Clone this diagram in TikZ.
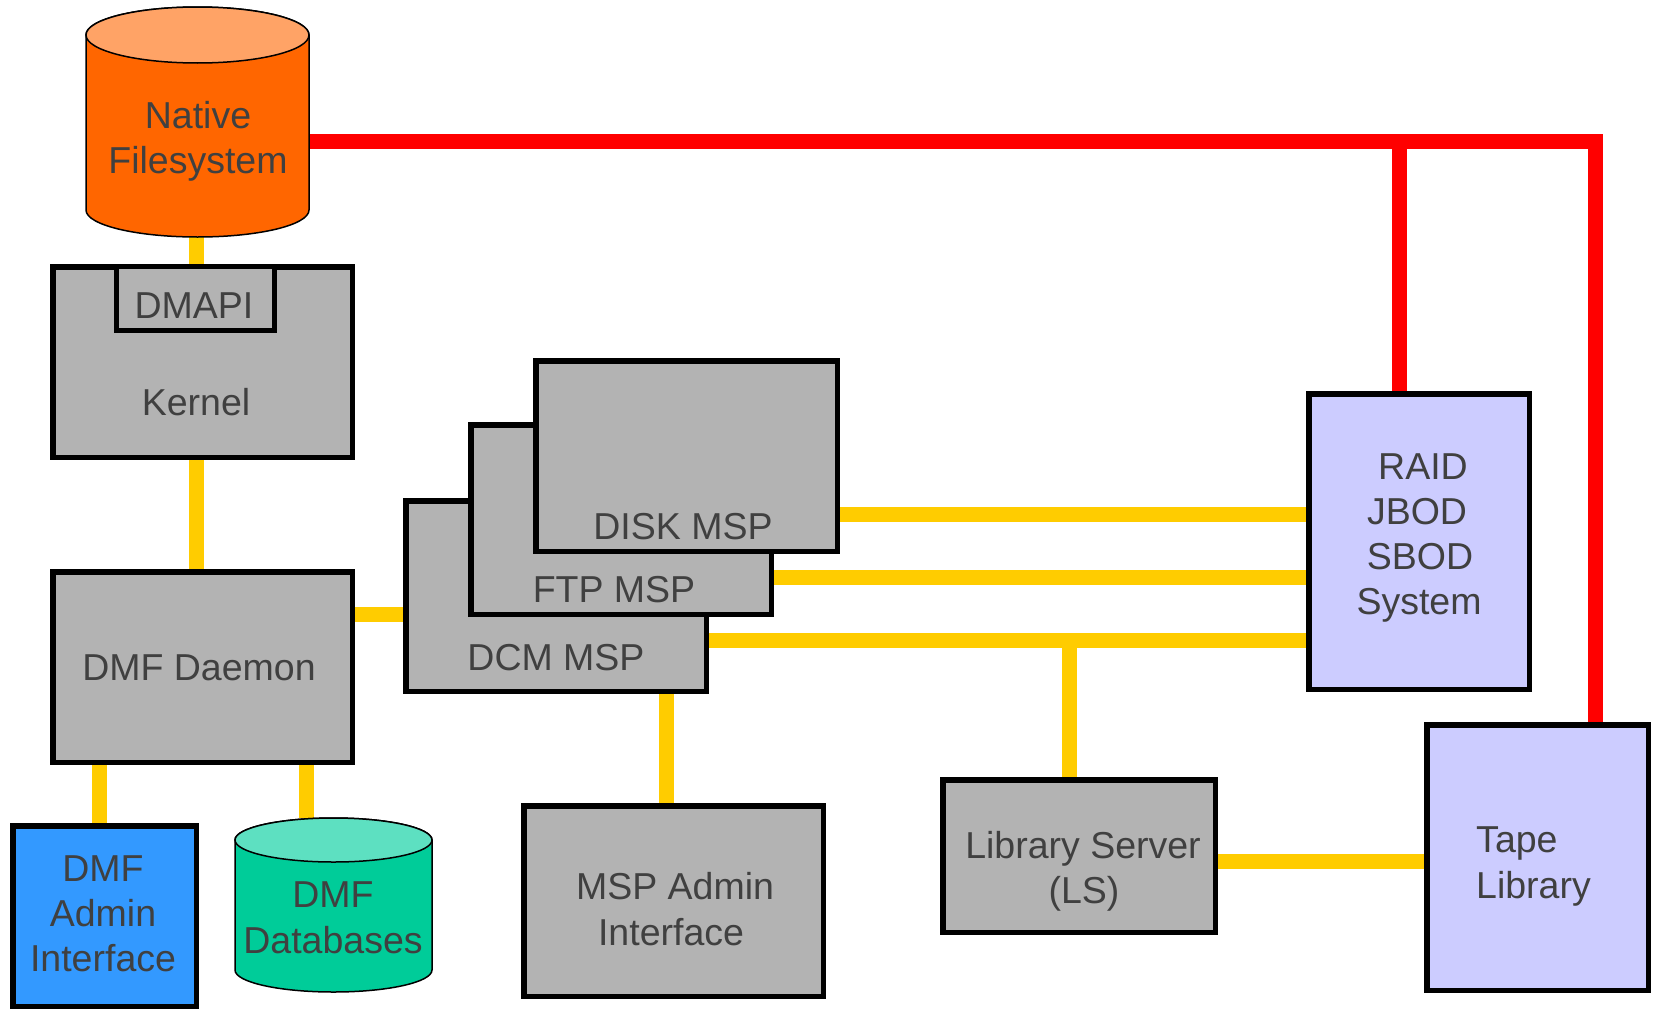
\documentclass[tikz,border=0pt]{standalone}
\usepackage{fontspec}
\setmainfont{Liberation Sans}
\usetikzlibrary{backgrounds}
\definecolor{boxgray}{HTML}{B3B3B3}
\definecolor{textgray}{HTML}{404040}
\definecolor{orangebody}{HTML}{FF6600}
\definecolor{orangetop}{HTML}{FFA366}
\definecolor{greenbody}{HTML}{00CC99}
\definecolor{greentop}{HTML}{5DE0C1}
\definecolor{adminblue}{HTML}{3399FF}
\definecolor{lilac}{HTML}{CCCCFF}
\definecolor{linkyellow}{HTML}{FFCC00}
\definecolor{linkred}{HTML}{FF0000}
\begin{document}
\begin{tikzpicture}[x=1pt,y=-1pt,
  box/.style={rectangle, draw=black, line width=5.5pt, fill=boxgray, inner sep=0pt},
  yel/.style={draw=linkyellow, line width=15pt},
  redl/.style={draw=linkred, line width=15pt, line join=miter},
  lbl/.style={text=textgray, font=\fontsize{37.5}{45}\selectfont, anchor=base, inner sep=0pt},
  cylline/.style={draw=black, line width=1.5pt},
  ghost/.style={rectangle, inner sep=0pt, outer sep=0pt}]
\useasboundingbox (0,0) rectangle (1653,1009);

% guides
\coordinate (xk) at (196,0);
\coordinate (xa) at (99.5,0);
\coordinate (xd) at (306.5,0);
\coordinate (xm) at (666,0);
\coordinate (xl) at (1069,0);
\coordinate (xr1) at (1399,0);
\coordinate (xr2) at (1595,0);
\coordinate (yd) at (0,614);
\coordinate (y1) at (0,514.5);
\coordinate (y2) at (0,577);
\coordinate (y3) at (0,640.5);
\coordinate (yt) at (0,861);
\coordinate (yr) at (0,141);

% Native filesystem cylinder
\node[ghost, minimum width=223pt, minimum height=230pt] (native) at (197.5,122) {};
\path[cylline, fill=orangebody] (86,35) -- (86,210)
  arc[start angle=180, end angle=360, x radius=111.5pt, y radius=27pt]
  -- (309,35)
  arc[start angle=0, end angle=180, x radius=111.5pt, y radius=28pt] -- cycle;
\path[cylline, fill=orangetop] (197.5,35) ellipse[x radius=111.5pt, y radius=28pt];

% DMF databases cylinder
\node[ghost, minimum width=197pt, minimum height=174pt] (dbs) at (333.5,905) {};
\path[cylline, fill=greenbody] (235,840) -- (235,970)
  arc[start angle=180, end angle=360, x radius=98.5pt, y radius=22pt]
  -- (432,840)
  arc[start angle=0, end angle=180, x radius=98.5pt, y radius=22pt] -- cycle;
\path[cylline, fill=greentop] (333.5,840) ellipse[x radius=98.5pt, y radius=22pt];

% boxes
\node[box, minimum width=299.5pt, minimum height=190.5pt] (kernel) at (202.5,362) {};
\node[box, line width=5pt, minimum width=158pt, minimum height=64pt] (dmapi) at (195.5,298.5) {};
\node[box, minimum width=299.5pt, minimum height=190.5pt] (daemon) at (202.5,667) {};
\node[box, minimum width=300.5pt, minimum height=190.5pt] (dcm) at (556,596) {};
\node[box, minimum width=300.5pt, minimum height=189.5pt] (ftp) at (621,519.5) {};
\node[box, minimum width=301.5pt, minimum height=190.5pt] (disk) at (686.5,456) {};
\node[box, fill=adminblue, minimum width=183.5pt, minimum height=180.5pt] (admin) at (104.5,916) {};
\node[box, minimum width=299.5pt, minimum height=190.5pt] (mspadmin) at (673.5,901) {};
\node[box, minimum width=272.5pt, minimum height=152.5pt] (ls) at (1079,856) {};
\node[box, fill=lilac, minimum width=220.5pt, minimum height=295.5pt] (raid) at (1419,541.5) {};
\node[box, fill=lilac, minimum width=221.5pt, minimum height=265.5pt] (tape) at (1537.5,857.5) {};

% connectors
\begin{pgfonlayer}{background}
\draw[yel] (xk |- native.south) -- (xk |- kernel.north);
\draw[yel] (xk |- kernel.south) -- (xk |- daemon.north);
\draw[yel] (daemon.east |- yd) -- (dcm.west |- yd);
\draw[yel] (xa |- daemon.south) -- (xa |- admin.north);
\draw[yel] (xd |- daemon.south) -- (xd |- dbs.north);
\draw[yel] (disk.east |- y1) -- (raid.west |- y1);
\draw[yel] (ftp.east |- y2) -- (raid.west |- y2);
\draw[yel] (dcm.east |- y3) -- (raid.west |- y3);
\draw[yel] (xm |- dcm.south) -- (xm |- mspadmin.north);
\draw[yel] (xl |- y3) -- (xl |- ls.north);
\draw[yel] (ls.east |- yt) -- (tape.west |- yt);
\draw[redl] (native.east |- yr) -- (xr2 |- yr) -- (xr2 |- tape.north);
\draw[redl] (xr1 |- yr) -- (xr1 |- raid.north);
\end{pgfonlayer}

% labels
\node[lbl] (tnative1) at (198,128) {Native};
\node[lbl] (tnative2) at (198,173) {Filesystem};
\node[lbl] (tdmapi) at (194,318) {DMAPI};
\node[lbl] (tkernel) at (196,415) {Kernel};
\node[lbl] (tdaemon) at (199,680) {DMF Daemon};
\node[lbl] (tadm1) at (103,881) {DMF};
\node[lbl] (tadm2) at (103,926) {Admin};
\node[lbl] (tadm3) at (103,971) {Interface};
\node[lbl] (tdb1) at (333,907) {DMF};
\node[lbl] (tdb2) at (333,953) {Databases};
\node[lbl] (tdisk) at (683,539) {DISK MSP};
\node[lbl] (tftp) at (614,602) {FTP MSP};
\node[lbl] (tdcm) at (556,670) {DCM MSP};
\node[lbl] (tmsp1) at (675,899) {MSP Admin};
\node[lbl] (tmsp2) at (671,945) {Interface};
\node[lbl] (tls1) at (1083,858) {Library Server};
\node[lbl] (tls2) at (1084,903) {(LS)};
\node[lbl, anchor=base west] (ttape1) at (1476,852) {Tape};
\node[lbl, anchor=base west] (ttape2) at (1476,898) {Library};
\node[lbl] (traid1) at (1423,479) {RAID};
\node[lbl] (traid2) at (1417,524) {JBOD};
\node[lbl] (traid3) at (1420,569) {SBOD};
\node[lbl] (traid4) at (1419,614) {System};
\end{tikzpicture}
\end{document}
